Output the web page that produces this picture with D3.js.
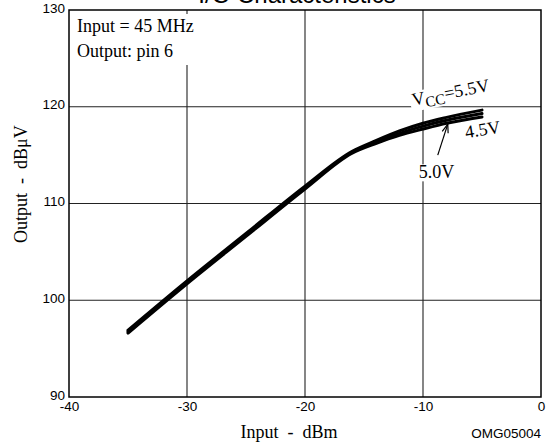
<!DOCTYPE html>
<html>
<head>
<meta charset="utf-8">
<script src="https://cdn.jsdelivr.net/npm/d3@7"></script>
<style>
  body { margin: 0; background: #fff; }
  svg { display: block; }
</style>
</head>
<body>
<svg id="chart"></svg>
<script>
// input power (dBm)
const inputDbm = [-35, -30, -25, -20, -16, -14, -12, -10, -8, -5];
// output (dBuV) per supply voltage
const out55 = [96.9, 102.0, 106.9, 111.8, 115.4, 116.5, 117.5, 118.3, 118.9, 119.65];
const out50 = [96.75, 101.85, 106.75, 111.65, 115.3, 116.35, 117.25, 118.0, 118.6, 119.3];
const out45 = [96.6, 101.7, 106.6, 111.5, 115.2, 116.2, 117.05, 117.7, 118.3, 118.95];
const seriesNames = ["5.5V", "5.0V", "4.5V"];
const xTicks = [-40, -30, -20, -10, 0];
const yTicks = [90, 100, 110, 120, 130];

const width = 551, height = 447;
const margin = { top: 10, right: 10, bottom: 50, left: 69 };

const svg = d3.select("#chart").attr("width", width).attr("height", height);

const x = d3.scaleLinear().domain([-40, 0]).range([margin.left, width - margin.right]);
const y = d3.scaleLinear().domain([90, 130]).range([height - margin.bottom, margin.top]);

const sans = "Liberation Sans, Arial, Helvetica, sans-serif";
const serif = "Liberation Serif, Times New Roman, serif";

// title (mostly cut off at the top of the picture)
svg.append("text")
  .attr("x", 297).attr("y", 3)
  .attr("text-anchor", "middle")
  .style("font-family", sans).style("font-size", "24px")
  .text("I/O Characteristics");

// grid
const grid = svg.append("g").attr("stroke", "#222").attr("stroke-width", 1.1);
grid.selectAll(".vg").data(xTicks.slice(1, -1)).enter().append("line")
  .attr("x1", d => x(d)).attr("x2", d => x(d))
  .attr("y1", y(130)).attr("y2", y(90));
grid.selectAll(".hg").data(yTicks.slice(1, -1)).enter().append("line")
  .attr("x1", x(-40)).attr("x2", x(0))
  .attr("y1", d => y(d)).attr("y2", d => y(d));

// axes (labels only)
const xAxis = svg.append("g")
  .attr("transform", `translate(0,${y(90)})`)
  .call(d3.axisBottom(x).tickValues(xTicks).tickSize(0).tickPadding(4).tickFormat(d => String(d)));
const yAxis = svg.append("g")
  .attr("transform", `translate(${x(-40)},0)`)
  .call(d3.axisLeft(y).tickValues(yTicks).tickSize(0).tickPadding(4).tickFormat(d => String(d)));
[xAxis, yAxis].forEach(a => {
  a.select(".domain").remove();
  a.selectAll("text").style("font-family", sans).style("font-size", "13.5px").attr("fill", "#000");
});
yAxis.selectAll("text").attr("dy", "0.15em");

// annotation box top-left
const note = svg.append("g");
const noteBg = note.append("rect").attr("fill", "#fff");
const noteText = note.append("text")
  .style("font-family", serif).style("font-size", "18px");
noteText.append("tspan").attr("x", 77).attr("y", 32).text("Input = 45 MHz");
noteText.append("tspan").attr("x", 77).attr("y", 57).text("Output: pin 6");
const nb = noteText.node().getBBox();
noteBg.attr("x", nb.x - 4).attr("y", nb.y - 2).attr("width", nb.width + 8).attr("height", nb.height + 6);

// series labels (white backing hides the grid behind them)
function labelWithBg(g) {
  const t = g.select("text");
  const b = t.node().getBBox();
  g.insert("rect", "text")
    .attr("x", b.x - 2).attr("y", b.y + 2)
    .attr("width", b.width + 4).attr("height", b.height - 3)
    .attr("fill", "#fff");
}

const vcc = svg.append("g")
  .attr("transform", `translate(${x(-10.85)},${y(120.1)}) rotate(-11)`);
const vccText = vcc.append("text")
  .style("font-family", serif).style("font-size", "18px");
vccText.append("tspan").text("V");
vccText.append("tspan").attr("dy", 4).style("font-size", "15px").text("CC");
vccText.append("tspan").attr("dy", -4).text("=" + seriesNames[0]);
labelWithBg(vcc);

const l50 = svg.append("g")
  .attr("transform", `translate(${x(-10.35)},${y(112.6)})`);
l50.append("text").style("font-family", serif).style("font-size", "18px").text(seriesNames[1]);
labelWithBg(l50);

const l45 = svg.append("g")
  .attr("transform", `translate(${x(-6.35)},${y(116.75)}) rotate(-9)`);
l45.append("text").style("font-family", serif).style("font-size", "18px").text(seriesNames[2]);

// curves
const line = d3.line()
  .x((d, i) => x(inputDbm[i]))
  .y(d => y(d))
  .curve(d3.curveMonotoneX);

svg.append("g").selectAll("path")
  .data([out55, out50, out45])
  .enter().append("path")
  .attr("d", line)
  .attr("fill", "none")
  .attr("stroke", "#000")
  .attr("stroke-width", 3)
  .attr("stroke-linecap", "round");

// arrow to 5.0V curve
const ax0 = x(-8.75), ay0 = y(115.0), ax1 = x(-7.9), ay1 = y(118.2);
svg.append("line")
  .attr("x1", ax0).attr("y1", ay0).attr("x2", ax1).attr("y2", ay1)
  .attr("stroke", "#000").attr("stroke-width", 1.2);
const ang = Math.atan2(ay1 - ay0, ax1 - ax0);
const hl = 9, spread = 0.35;
svg.append("path")
  .attr("d", `M${ax1 - hl * Math.cos(ang - spread)},${ay1 - hl * Math.sin(ang - spread)}L${ax1},${ay1}L${ax1 - hl * Math.cos(ang + spread)},${ay1 - hl * Math.sin(ang + spread)}`)
  .attr("fill", "none").attr("stroke", "#000").attr("stroke-width", 1.2);

// frame
svg.append("rect")
  .attr("x", x(-40)).attr("y", y(130))
  .attr("width", x(0) - x(-40)).attr("height", y(90) - y(130))
  .attr("fill", "none").attr("stroke", "#000").attr("stroke-width", 1.5);

// axis titles
svg.append("text")
  .attr("x", 289).attr("y", 438)
  .attr("text-anchor", "middle")
  .style("font-family", serif).style("font-size", "18px")
  .style("white-space", "pre")
  .text("Input  -  dBm");

svg.append("text")
  .attr("transform", `translate(27,${y(112)}) rotate(-90)`)
  .attr("text-anchor", "middle")
  .style("font-family", serif).style("font-size", "18px")
  .style("white-space", "pre")
  .text("Output  -  dBμV");

svg.append("text")
  .attr("x", 541).attr("y", 438)
  .attr("text-anchor", "end")
  .style("font-family", sans).style("font-size", "13.5px")
  .text("OMG05004");
</script>
</body>
</html>
